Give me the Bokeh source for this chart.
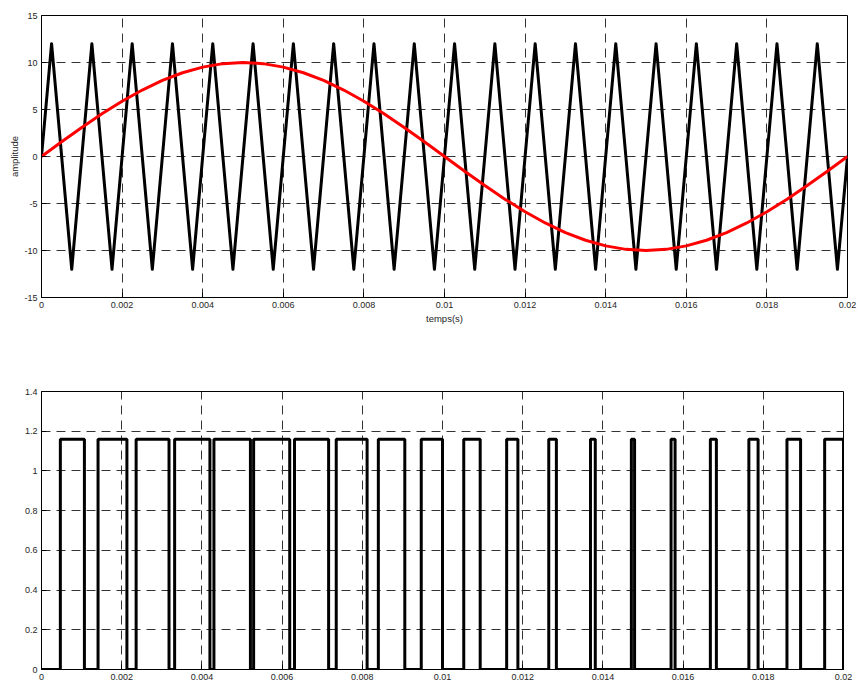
from bokeh.plotting import figure
from bokeh.layouts import column
from bokeh.models import Range1d, FixedTicker, CustomJSTickFormatter
from bokeh.embed import file_html
from bokeh.resources import INLINE

# ---------------- data ----------------
# carrier (triangle): peak / trough instants and amplitude
tri_peak_t = [0.00025, 0.00125, 0.00225, 0.00325, 0.00425, 0.00525, 0.00625,
              0.00725, 0.00825, 0.00925, 0.01025, 0.01125, 0.01225, 0.01325,
              0.01425, 0.01525, 0.01625, 0.01725, 0.01825, 0.01925]
tri_trough_t = [0.00075, 0.00175, 0.00275, 0.00375, 0.00475, 0.00575, 0.00675,
                0.00775, 0.00875, 0.00975, 0.01075, 0.01175, 0.01275, 0.01375,
                0.01475, 0.01575, 0.01675, 0.01775, 0.01875, 0.01975]
tri_amp = 12.0
tri_start = (0.0, 0.0)
tri_end = (0.02, 0.0)

# reference (red) sampled every 0.0005 s
ref_t = [i * 0.0005 for i in range(41)]
ref_v = [0.0, 1.56, 3.09, 4.54, 5.88, 7.07, 8.09, 8.91, 9.51, 9.88, 10.0,
         9.88, 9.51, 8.91, 8.09, 7.07, 5.88, 4.54, 3.09, 1.56, 0.0,
         -1.56, -3.09, -4.54, -5.88, -7.07, -8.09, -8.91, -9.51, -9.88, -10.0,
         -9.88, -9.51, -8.91, -8.09, -7.07, -5.88, -4.54, -3.09, -1.56, 0.0]

# PWM output: rising / falling edge instants, high level
pwm_rise = [0.00047, 0.00141, 0.00236, 0.00332, 0.00430, 0.00529, 0.00631,
            0.00735, 0.00840, 0.00947, 0.01053, 0.01160, 0.01265, 0.01369,
            0.01471, 0.01570, 0.01668, 0.01764, 0.01859, 0.01953]
pwm_fall = [0.00107, 0.00213, 0.00318, 0.00420, 0.00521, 0.00619, 0.00716,
            0.00812, 0.00906, 0.01000, 0.01094, 0.01188, 0.01284, 0.01381,
            0.01479, 0.01580, 0.01683, 0.01787, 0.01893, 0.02000]
pwm_high = 1.16

x_ticks = [0, 0.002, 0.004, 0.006, 0.008, 0.01, 0.012, 0.014, 0.016, 0.018, 0.02]
y1_ticks = [-15, -10, -5, 0, 5, 10, 15]
y2_ticks = [0, 0.2, 0.4, 0.6, 0.8, 1.0, 1.2, 1.4]

# ---------------- build paths ----------------
tri_x = [tri_start[0]]
tri_y = [tri_start[1]]
for tp, tt in zip(tri_peak_t, tri_trough_t):
    tri_x += [tp, tt]
    tri_y += [tri_amp, -tri_amp]
tri_x.append(tri_end[0])
tri_y.append(tri_end[1])

pwm_x = [0.0]
pwm_y = [0.0]
for r, f in zip(pwm_rise, pwm_fall):
    pwm_x += [r, r, f, f]
    pwm_y += [0.0, pwm_high, pwm_high, 0.0]

FONT = "Liberation Sans"
TXT = "#262626"
fmt = CustomJSTickFormatter(code="return String(parseFloat(tick.toFixed(6)));")


def style(p, yticks):
    p.outline_line_color = "black"
    p.outline_line_width = 1
    p.background_fill_color = "white"
    p.border_fill_color = "white"
    for ax in (p.xaxis[0], p.yaxis[0]):
        ax.major_tick_in = 5
        ax.major_tick_out = 0
        ax.minor_tick_line_color = None
        ax.axis_line_color = "black"
        ax.major_tick_line_color = "black"
        ax.major_label_text_font = FONT
        ax.major_label_text_font_size = "9px"
        ax.major_label_text_color = TXT
        ax.axis_label_text_font = FONT
        ax.axis_label_text_font_size = "9.5px"
        ax.axis_label_text_font_style = "normal"
        ax.axis_label_text_color = TXT
        ax.formatter = fmt
    p.xaxis[0].ticker = FixedTicker(ticks=x_ticks)
    p.yaxis[0].ticker = FixedTicker(ticks=yticks)
    p.xaxis[0].major_label_standoff = 4
    p.yaxis[0].major_label_standoff = 4
    for g in (p.xgrid[0], p.ygrid[0]):
        g.grid_line_color = "#333333"
        g.grid_line_dash = "9 6"
        g.grid_line_width = 1
    p.xgrid[0].ticker = FixedTicker(ticks=x_ticks)
    p.ygrid[0].ticker = FixedTicker(ticks=yticks)


p1 = figure(width=858, height=340, frame_width=806, frame_height=282,
            x_range=Range1d(0, 0.02), y_range=Range1d(-15, 15),
            output_backend="svg", toolbar_location=None,
            min_border_left=41, min_border_right=11, min_border_top=15,
            min_border_bottom=43)
style(p1, y1_ticks)
p1.xaxis.axis_label = "temps(s)"
p1.yaxis.axis_label = "amplitude"
p1.xaxis[0].axis_label_standoff = 2
p1.yaxis[0].axis_label_standoff = 1
p1.line(tri_x, tri_y, line_color="black", line_width=3, line_join="round")
p1.line(ref_t, ref_v, line_color="#ff0000", line_width=3)

p2 = figure(width=858, height=340, frame_width=802, frame_height=278,
            x_range=Range1d(0, 0.02), y_range=Range1d(0, 1.4),
            output_backend="svg", toolbar_location=None,
            min_border_left=41, min_border_right=15, min_border_top=51,
            min_border_bottom=11)
style(p2, y2_ticks)
p2.line(pwm_x, pwm_y, line_color="black", line_width=3)

layout = column(p1, p2, spacing=0)
open("out.html", "w").write(file_html(layout, INLINE))
